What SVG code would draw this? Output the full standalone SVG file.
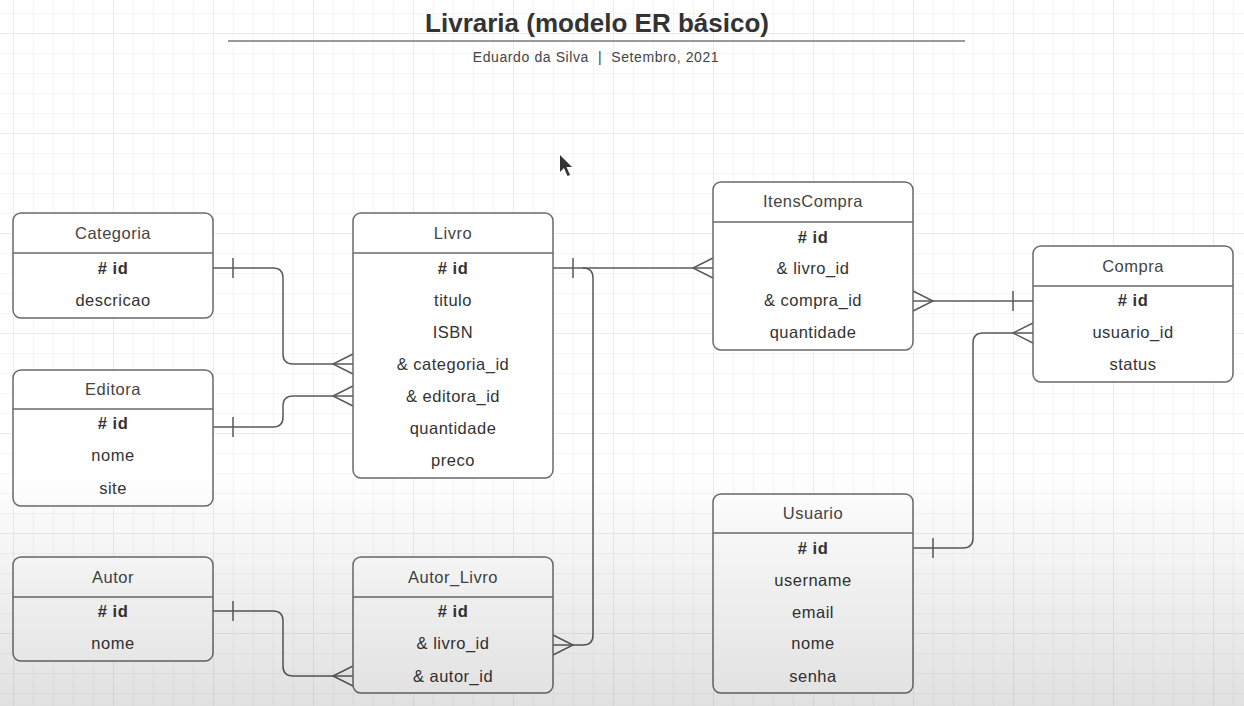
<svg xmlns="http://www.w3.org/2000/svg" width="1244" height="706" viewBox="0 0 1244 706">
<defs>
<pattern id="grid" x="13" y="13" width="20" height="20" patternUnits="userSpaceOnUse">
<path d="M0,0 H20 M0,0 V20" fill="none" stroke="#ececec" stroke-width="1"/>
</pattern>
<pattern id="grid2" x="13" y="33" width="100" height="100" patternUnits="userSpaceOnUse">
<path d="M0,0 H100 M0,0 V100" fill="none" stroke="#e3e3e3" stroke-width="1"/>
</pattern>
<linearGradient id="shade" x1="0" y1="0" x2="0" y2="1">
<stop offset="0" stop-color="#000" stop-opacity="0"/>
<stop offset="1" stop-color="#000" stop-opacity="0.12"/>
</linearGradient>
<style>
.box{fill:#fff;stroke:#6a6a6a;stroke-width:1.5}
.sep{stroke:#6a6a6a;stroke-width:1.5}
.hd{font-family:"Liberation Sans",Arial,sans-serif;font-size:16.5px;letter-spacing:0.5px;fill:#444;text-anchor:middle}
.f{font-family:"Liberation Sans",Arial,sans-serif;font-size:16.5px;letter-spacing:0.5px;fill:#333;text-anchor:middle}
.k{font-weight:bold}
.c{fill:none;stroke:#5a5a5a;stroke-width:1.5}
</style>
</defs>
<rect width="1244" height="706" fill="#fff"/>
<rect width="1244" height="706" fill="url(#grid)"/>
<rect width="1244" height="706" fill="url(#grid2)"/>

<g id="title">
<text x="597" y="32" font-family="Liberation Sans,Arial,sans-serif" font-size="26" font-weight="bold" fill="#333" text-anchor="middle">Livraria (modelo ER básico)</text>
<line x1="228" y1="41" x2="965" y2="41" stroke="#999" stroke-width="2"/>
<text x="596" y="62" font-family="Liberation Sans,Arial,sans-serif" font-size="14" letter-spacing="0.6" fill="#444" text-anchor="middle" xml:space="preserve">Eduardo da Silva  |  Setembro, 2021</text>
</g>

<g id="connectors">
<path class="c" d="M213,268 H273 Q283,268 283,278 V354 Q283,364 293,364 H353"/>
<path class="c" d="M233,258 V278 M353,354 L333,364 L353,374"/>
<path class="c" d="M213,427 H273 Q283,427 283,417 V406 Q283,396 293,396 H353"/>
<path class="c" d="M233,417 V437 M353,386 L333,396 L353,406"/>
<path class="c" d="M553,268 H713"/>
<path class="c" d="M573,258 V278 M713,258 L693,268 L713,278"/>
<path class="c" d="M583,268 Q593,268 593,278 V635 Q593,645 583,645 H553"/>
<path class="c" d="M553,635 L573,645 L553,655"/>
<path class="c" d="M213,611 H273 Q283,611 283,621 V666 Q283,676 293,676 H353"/>
<path class="c" d="M233,601 V621 M353,666 L333,676 L353,686"/>
<path class="c" d="M913,301 H1033"/>
<path class="c" d="M913,291 L933,301 L913,311 M1013,291 V311"/>
<path class="c" d="M913,548 H963 Q973,548 973,538 V343 Q973,333 983,333 H1033"/>
<path class="c" d="M933,538 V558 M1033,323 L1013,333 L1033,343"/>
</g>

<g id="Categoria">
<rect class="box" x="13" y="213" width="200" height="105" rx="8"/>
<line class="sep" x1="13" y1="253" x2="213" y2="253"/>
<text class="hd" x="113" y="239">Categoria</text>
<text class="f k" x="113" y="274"># id</text>
<text class="f" x="113" y="306">descricao</text>
</g>

<g id="Editora">
<rect class="box" x="13" y="370" width="200" height="136" rx="8"/>
<line class="sep" x1="13" y1="409" x2="213" y2="409"/>
<text class="hd" x="113" y="395">Editora</text>
<text class="f k" x="113" y="429"># id</text>
<text class="f" x="113" y="461">nome</text>
<text class="f" x="113" y="494">site</text>
</g>

<g id="Autor">
<rect class="box" x="13" y="557" width="200" height="104" rx="8"/>
<line class="sep" x1="13" y1="597" x2="213" y2="597"/>
<text class="hd" x="113" y="583">Autor</text>
<text class="f k" x="113" y="617"># id</text>
<text class="f" x="113" y="649">nome</text>
</g>

<g id="Livro">
<rect class="box" x="353" y="213" width="200" height="265" rx="8"/>
<line class="sep" x1="353" y1="253" x2="553" y2="253"/>
<text class="hd" x="453" y="239">Livro</text>
<text class="f k" x="453" y="274"># id</text>
<text class="f" x="453" y="306">titulo</text>
<text class="f" x="453" y="338">ISBN</text>
<text class="f" x="453" y="370">&amp; categoria_id</text>
<text class="f" x="453" y="402">&amp; editora_id</text>
<text class="f" x="453" y="434">quantidade</text>
<text class="f" x="453" y="466">preco</text>
</g>

<g id="Autor_Livro">
<rect class="box" x="353" y="557" width="200" height="136" rx="8"/>
<line class="sep" x1="353" y1="597" x2="553" y2="597"/>
<text class="hd" x="453" y="583">Autor_Livro</text>
<text class="f k" x="453" y="617"># id</text>
<text class="f" x="453" y="649">&amp; livro_id</text>
<text class="f" x="453" y="682">&amp; autor_id</text>
</g>

<g id="ItensCompra">
<rect class="box" x="713" y="182" width="200" height="168" rx="8"/>
<line class="sep" x1="713" y1="222" x2="913" y2="222"/>
<text class="hd" x="813" y="207">ItensCompra</text>
<text class="f k" x="813" y="243"># id</text>
<text class="f" x="813" y="274">&amp; livro_id</text>
<text class="f" x="813" y="306">&amp; compra_id</text>
<text class="f" x="813" y="338">quantidade</text>
</g>

<g id="Compra">
<rect class="box" x="1033" y="246" width="200" height="136" rx="8"/>
<line class="sep" x1="1033" y1="286" x2="1233" y2="286"/>
<text class="hd" x="1133" y="272">Compra</text>
<text class="f k" x="1133" y="306"># id</text>
<text class="f" x="1133" y="338">usuario_id</text>
<text class="f" x="1133" y="370">status</text>
</g>

<g id="Usuario">
<rect class="box" x="713" y="494" width="200" height="199" rx="8"/>
<line class="sep" x1="713" y1="533" x2="913" y2="533"/>
<text class="hd" x="813" y="519">Usuario</text>
<text class="f k" x="813" y="554"># id</text>
<text class="f" x="813" y="586">username</text>
<text class="f" x="813" y="618">email</text>
<text class="f" x="813" y="649">nome</text>
<text class="f" x="813" y="682">senha</text>
</g>

<path d="M560,155 L560,172 L564,168 L567.5,176 L570,175 L566.5,167 L572,167 Z" fill="#333"/>
<rect x="0" y="470" width="1244" height="236" fill="url(#shade)"/>
</svg>
